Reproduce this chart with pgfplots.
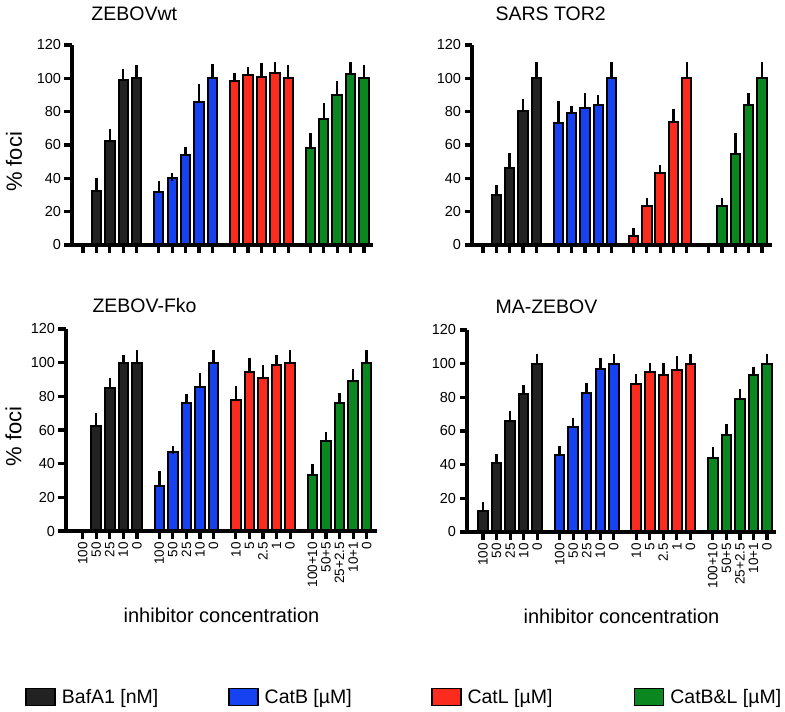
\documentclass[border=0pt]{standalone}
\usepackage{pgfplots}
\pgfplotsset{compat=1.18}
\usepackage{fontspec}
\setmainfont{Liberation Sans}

\definecolor{cBaf}{HTML}{222222}
\definecolor{cCatB}{HTML}{1642F2}
\definecolor{cCatL}{HTML}{FB2B1E}
\definecolor{cCatBL}{HTML}{0A871E}

% bars sit at 0-4, 5.65-9.65, 11.3-15.3, 16.95-20.95; a value of 0 draws no bar
\pgfplotsset{
  panel/.style={
    scale only axis, anchor=south west,
    ymin=0, ymax=120, ytick={0,20,...,120},
    axis lines*=left, axis on top, clip=false,
    axis line style={line width=3.2bp, black},
    tick style={line width=3.2bp, black},
    major tick style={line width=3.2bp, black},
    tick align=outside, major tick length=7.5bp,
    xtick={0,1,2,3,4,5.65,6.65,7.65,8.65,9.65,11.3,12.3,13.3,14.3,15.3,16.95,17.95,18.95,19.95,20.95},
    ybar, bar shift=0pt, bar width=0.7,
    /pgf/number format/assume math mode=true,
    yticklabel style={font=\fontsize{14.5bp}{16bp}\selectfont},
    title style={font=\fontsize{19.5bp}{22bp}\selectfont, anchor=base west, yshift=0pt},
    ylabel style={font=\fontsize{22bp}{24bp}\selectfont, anchor=center},
    xlabel style={font=\fontsize{20bp}{22bp}\selectfont, anchor=base, yshift=0pt},
    error bars/y dir=plus, error bars/y explicit,
    error bars/error bar style={line width=2.5bp, black},
    error bars/error mark options={line width=2.5bp, mark size=4bp, black},
    legend image code/.code={\draw[#1, line width=1.8bp] (0bp,-8.5bp) rectangle (29bp,8.5bp);},
  },
  bottomx/.style={
    xticklabels={100,50,25,10,0,100,50,25,10,0,10,5,2.5,1,0,100+10,50+5,25+2.5,10+1,0},
    xticklabel style={rotate=90, anchor=east, font=\fontsize{13.5bp}{15bp}\selectfont},
  },
  bars/.style={draw=black, line width=2bp, fill=#1},
}

\begin{document}
\begin{tikzpicture}
\useasboundingbox (0bp,0bp) rectangle (785bp,-712bp);

% ZEBOVwt
\begin{axis}[panel, at={(72bp,-245bp)}, width=301bp, height=200bp,
  xmin=-0.82, xmax=21.62, xticklabels={},
  title={ZEBOVwt}, title style={at={(axis description cs:0.053,1.095)}},
  ylabel={\% foci}, ylabel style={at={(axis description cs:-0.193,0.415)}}]
\addplot[bars=cBaf] coordinates {(1,32.4) +- (0,5.2) (2,62.4) +- (0,4.6) (3,99) +- (0,4.4) (4,100) +- (0,5.8)};
\addplot[bars=cCatB] coordinates {(5.65,32) +- (0,4) (6.65,40) +- (0,0.8) (7.65,54) +- (0,2.4) (8.65,85.8) +- (0,8.2) (9.65,100) +- (0,6)};
\addplot[bars=cCatL] coordinates {(11.3,98.4) +- (0,2.6) (12.3,102) +- (0,2.6) (13.3,101) +- (0,6) (14.3,103) +- (0,4.4) (15.3,100) +- (0,5.8)};
\addplot[bars=cCatBL] coordinates {(16.95,58) +- (0,6.6) (17.95,75.6) +- (0,7) (18.95,90) +- (0,6) (19.95,102.4) +- (0,5) (20.95,100) +- (0,5.8)};
\end{axis}

% SARS TOR2
\begin{axis}[panel, at={(472bp,-245bp)}, width=300bp, height=200bp,
  xmin=-0.83, xmax=21.7, xticklabels={},
  title={SARS TOR2}, title style={at={(axis description cs:0.067,1.095)}}]
\addplot[bars=cBaf] coordinates {(1,30.2) +- (0,3.6) (2,46.4) +- (0,6.6) (3,80.2) +- (0,5.2) (4,100) +- (0,7.4)};
\addplot[bars=cCatB] coordinates {(5.65,73.4) +- (0,10.8) (6.65,79.2) +- (0,2) (7.65,82.4) +- (0,6.4) (8.65,84.2) +- (0,3.6) (9.65,100) +- (0,7.4)};
\addplot[bars=cCatL] coordinates {(11.3,5.2) +- (0,2.8) (12.3,23.2) +- (0,2.8) (13.3,43.2) +- (0,2.2) (14.3,74) +- (0,5.4) (15.3,100) +- (0,7.4)};
\addplot[bars=cCatBL] coordinates {(17.95,23.2) +- (0,2.8) (18.95,54.4) +- (0,10.6) (19.95,84.2) +- (0,4.6) (20.95,100) +- (0,7.4)};
\end{axis}

% ZEBOV-Fko
\begin{axis}[panel, bottomx, at={(66bp,-531bp)}, width=311bp, height=202bp,
  xmin=-1.23, xmax=21.71,
  title={ZEBOV-Fko}, title style={at={(axis description cs:0.074,1.05)}},
  ylabel={\% foci}, ylabel style={at={(axis description cs:-0.169,0.47)}},
  xlabel={inhibitor concentration}, xlabel style={at={(axis description cs:0.5,-0.455)}},
  legend style={at={(axis description cs:-0.132,-0.822)}, anchor=west, draw=none, fill=none,
    inner sep=0pt, legend columns=4, nodes={inner sep=0pt},
    font=\fontsize{19.5bp}{22bp}\selectfont}]
\addplot[bars=cBaf] coordinates {(1,62.6) +- (0,5) (2,85.1) +- (0,3.6) (3,99.6) +- (0,2.8) (4,100) +- (0,5.1)};
\addlegendentry{\makebox[172bp][l]{\hspace{6bp}BafA1 [nM]}}
\addplot[bars=cCatB] coordinates {(5.65,26.5) +- (0,6.7) (6.65,46.9) +- (0,1.2) (7.65,76.2) +- (0,2.8) (8.65,85.7) +- (0,5.6) (9.65,100) +- (0,5.1)};
\addlegendentry{\makebox[172bp][l]{\hspace{6bp}CatB [µM]}}
\addplot[bars=cCatL] coordinates {(11.3,77.8) +- (0,6) (12.3,94.5) +- (0,6.1) (13.3,91.1) +- (0,5.1) (14.3,98.6) +- (0,3.4) (15.3,100) +- (0,5.1)};
\addlegendentry{\makebox[172bp][l]{\hspace{6bp}CatL [µM]}}
\addplot[bars=cCatBL] coordinates {(16.95,33.4) +- (0,4) (17.95,53.3) +- (0,3) (18.95,76) +- (0,3.8) (19.95,89.3) +- (0,4.4) (20.95,100) +- (0,5.1)};
\addlegendentry{\hspace{6bp}CatB\&L [µM]}
\end{axis}

% MA-ZEBOV
\begin{axis}[panel, bottomx, at={(467bp,-532bp)}, width=309bp, height=202bp,
  xmin=-1.18, xmax=21.61,
  title={MA-ZEBOV}, title style={at={(axis description cs:0.081,1.054)}},
  xlabel={inhibitor concentration}, xlabel style={at={(axis description cs:0.5,-0.455)}}]
\addplot[bars=cBaf] coordinates {(0,12.3) +- (0,3.2) (1,40.7) +- (0,3.3) (2,66) +- (0,3.8) (3,81.7) +- (0,3.2) (4,100) +- (0,3.2)};
\addplot[bars=cCatB] coordinates {(5.65,45.6) +- (0,3.4) (6.65,62.1) +- (0,3) (7.65,82.5) +- (0,3.8) (8.65,96.6) +- (0,4.6) (9.65,100) +- (0,3.2)};
\addplot[bars=cCatL] coordinates {(11.3,88.1) +- (0,3.6) (12.3,95) +- (0,3.2) (13.3,93.1) +- (0,4.7) (14.3,96.2) +- (0,6) (15.3,100) +- (0,3.2)};
\addplot[bars=cCatBL] coordinates {(16.95,43.7) +- (0,4.5) (17.95,57.5) +- (0,4) (18.95,79) +- (0,3.3) (19.95,93.1) +- (0,2.7) (20.95,100) +- (0,3.2)};
\end{axis}
\end{tikzpicture}
\end{document}
